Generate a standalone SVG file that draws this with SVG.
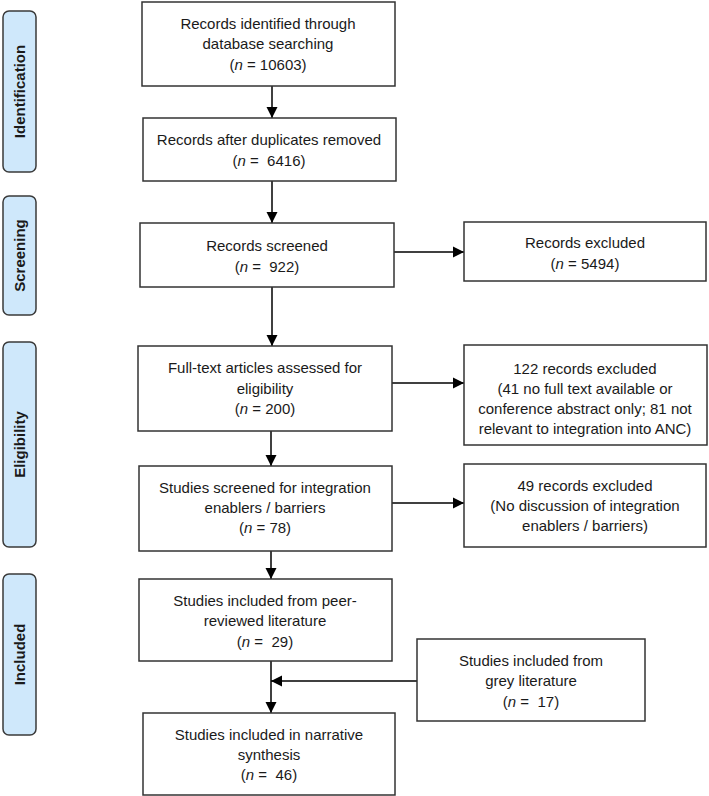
<svg xmlns="http://www.w3.org/2000/svg" width="709" height="796" viewBox="0 0 709 796">
<style>
.box{fill:#fff;stroke:#333;stroke-width:1.5}
.stage{fill:#cfe8fb;stroke:#3a3a3a;stroke-width:1.5}
.t{font-family:"Liberation Sans",Arial,sans-serif;font-size:15px;fill:#1a1a1a;text-anchor:middle}
.s{font-family:"Liberation Sans",Arial,sans-serif;font-size:15px;font-weight:bold;fill:#1a1a1a;text-anchor:middle}
.c{stroke:#000;stroke-width:1.5;fill:none}
</style>
<defs>
<marker id="ah" markerUnits="userSpaceOnUse" markerWidth="12" markerHeight="12" viewBox="0 0 12 12" refX="11" refY="6" orient="auto">
<path d="M0,0.5 L11,6 L0,11.5 Z" fill="#000"/>
</marker>
</defs>

<g id="stage-identification">
<rect class="stage" x="3" y="11" width="33" height="161" rx="6"/>
<text class="s" transform="translate(25,91.5) rotate(-90)">Identification</text>
</g>
<g id="stage-screening">
<rect class="stage" x="3" y="196" width="33" height="119" rx="6"/>
<text class="s" transform="translate(25,255.5) rotate(-90)">Screening</text>
</g>
<g id="stage-eligibility">
<rect class="stage" x="3" y="342" width="33" height="205" rx="6"/>
<text class="s" transform="translate(25,444.5) rotate(-90)">Eligibility</text>
</g>
<g id="stage-included">
<rect class="stage" x="3" y="574" width="33" height="161" rx="6"/>
<text class="s" transform="translate(25,654.5) rotate(-90)">Included</text>
</g>

<g id="connectors">
<line class="c" x1="272" y1="86" x2="272" y2="118" marker-end="url(#ah)"/>
<line class="c" x1="272" y1="181" x2="272" y2="223" marker-end="url(#ah)"/>
<line class="c" x1="272" y1="287" x2="272" y2="346" marker-end="url(#ah)"/>
<line class="c" x1="271" y1="431" x2="271" y2="466" marker-end="url(#ah)"/>
<line class="c" x1="271" y1="551" x2="271" y2="579" marker-end="url(#ah)"/>
<line class="c" x1="271" y1="661" x2="271" y2="713" marker-end="url(#ah)"/>
<line class="c" x1="394" y1="252" x2="464" y2="252" marker-end="url(#ah)"/>
<line class="c" x1="392" y1="383" x2="464" y2="383" marker-end="url(#ah)"/>
<line class="c" x1="392" y1="503" x2="464" y2="503" marker-end="url(#ah)"/>
<line class="c" x1="417" y1="681" x2="271" y2="681" marker-end="url(#ah)"/>
</g>

<g id="n-identified">
<rect class="box" x="142" y="2" width="253" height="84"/>
<text class="t" x="268" y="29">Records identified through</text>
<text class="t" x="268" y="49">database searching</text>
<text class="t" x="268" y="70">(<tspan font-style="italic">n</tspan> = 10603)</text>
</g>
<g id="n-duplicates">
<rect class="box" x="143" y="118" width="253" height="63"/>
<text class="t" x="269" y="145">Records after duplicates removed</text>
<text class="t" x="269" y="166">(<tspan font-style="italic">n</tspan> = &#160;6416)</text>
</g>
<g id="n-screened">
<rect class="box" x="140" y="223" width="254" height="64"/>
<text class="t" x="267" y="251">Records screened</text>
<text class="t" x="267" y="272">(<tspan font-style="italic">n</tspan> = &#160;922)</text>
</g>
<g id="n-excluded1">
<rect class="box" x="464" y="222" width="242" height="59"/>
<text class="t" x="585" y="248">Records excluded</text>
<text class="t" x="585" y="269">(<tspan font-style="italic">n</tspan> = 5494)</text>
</g>
<g id="n-fulltext">
<rect class="box" x="138" y="346" width="254" height="85"/>
<text class="t" x="265" y="373">Full-text articles assessed for</text>
<text class="t" x="265" y="394">eligibility</text>
<text class="t" x="265" y="414">(<tspan font-style="italic">n</tspan> = 200)</text>
</g>
<g id="n-excluded2">
<rect class="box" x="464" y="345" width="243" height="100"/>
<text class="t" x="585" y="374">122 records excluded</text>
<text class="t" x="585" y="394">(41 no full text available or</text>
<text class="t" x="585" y="414">conference abstract only; 81 not</text>
<text class="t" x="585" y="434">relevant to integration into ANC)</text>
</g>
<g id="n-studies-screened">
<rect class="box" x="139" y="466" width="253" height="85"/>
<text class="t" x="265" y="493">Studies screened for integration</text>
<text class="t" x="265" y="513">enablers / barriers</text>
<text class="t" x="265" y="533">(<tspan font-style="italic">n</tspan> = 78)</text>
</g>
<g id="n-excluded3">
<rect class="box" x="464" y="464" width="242" height="83"/>
<text class="t" x="585" y="491">49 records excluded</text>
<text class="t" x="585" y="511">(No discussion of integration</text>
<text class="t" x="585" y="531">enablers / barriers)</text>
</g>
<g id="n-peer">
<rect class="box" x="139" y="579" width="253" height="82"/>
<text class="t" x="265" y="606">Studies included from peer-</text>
<text class="t" x="265" y="626">reviewed literature</text>
<text class="t" x="265" y="647">(<tspan font-style="italic">n</tspan> = &#160;29)</text>
</g>
<g id="n-grey">
<rect class="box" x="417" y="639" width="228" height="82"/>
<text class="t" x="531" y="666">Studies included from</text>
<text class="t" x="531" y="686">grey literature</text>
<text class="t" x="531" y="707">(<tspan font-style="italic">n</tspan> = &#160;17)</text>
</g>
<g id="n-narrative">
<rect class="box" x="143" y="713" width="252" height="82"/>
<text class="t" x="269" y="740">Studies included in narrative</text>
<text class="t" x="269" y="760">synthesis</text>
<text class="t" x="269" y="780">(<tspan font-style="italic">n</tspan> = &#160;46)</text>
</g>
</svg>
